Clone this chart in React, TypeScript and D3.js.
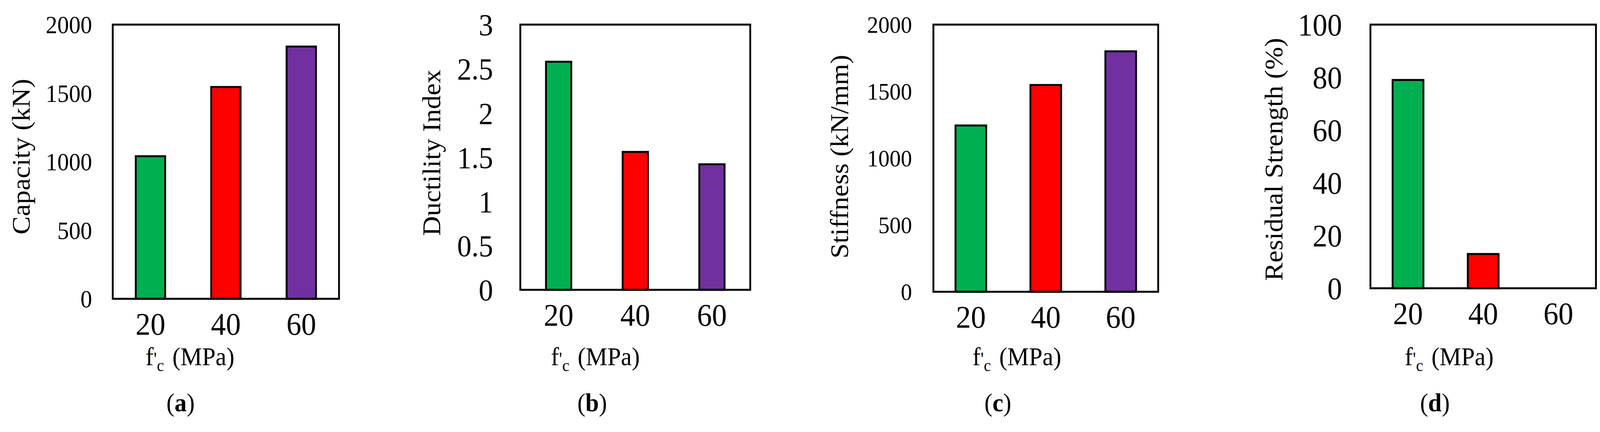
import React from "react";
import * as d3 from "d3";

// f'c levels (MPa)
const categories = ["20", "40", "60"];

const capacity = [1040, 1545, 1840];
const ductility = [2.58, 1.56, 1.42];
const stiffness = [1245, 1548, 1800];
const residual = [79, 13, 0];

const capacityTicks = [0, 500, 1000, 1500, 2000];
const ductilityTicks = [0, 0.5, 1, 1.5, 2, 2.5, 3];
const stiffnessTicks = [0, 500, 1000, 1500, 2000];
const residualTicks = [0, 20, 40, 60, 80, 100];

const barColors = ["#00B050", "#FF0000", "#7030A0"];

const FONT = "'Liberation Serif', 'Times New Roman', serif";
const W = 4342;
const H = 1106;

interface PanelSpec {
    values: number[];
    ticks: number[];
    yMax: number;
    yTitle: string;
    letter: string;
    left: number;
    right: number;
    top: number;
    bottom: number;
    barFrac: number;
    tickRight: number;
    tickSize: number;
    titleX: number;
    titleY: number;
    xTitleX: number;
    letterX: number;
}

const panels: PanelSpec[] = [
    {
        values: capacity, ticks: capacityTicks, yMax: 2000, yTitle: "Capacity (kN)", letter: "a",
        left: 306, right: 920, top: 63, bottom: 765, barFrac: 0.39,
        tickRight: 250, tickSize: 63, titleX: 81, titleY: 401, xTitleX: 395, letterX: 490,
    },
    {
        values: ductility, ticks: ductilityTicks, yMax: 3, yTitle: "Ductility Index", letter: "b",
        left: 1412, right: 2036, top: 63, bottom: 742, barFrac: 0.33,
        tickRight: 1338, tickSize: 78, titleX: 1195, titleY: 391, xTitleX: 1495, letterX: 1607,
    },
    {
        values: stiffness, ticks: stiffnessTicks, yMax: 2000, yTitle: "Stiffness (kN/mm)", letter: "c",
        left: 2533, right: 3143, top: 63, bottom: 747, barFrac: 0.41,
        tickRight: 2475, tickSize: 61, titleX: 2301, titleY: 401, xTitleX: 2639, letterX: 2708,
    },
    {
        values: residual, ticks: residualTicks, yMax: 100, yTitle: "Residual Strength (%)", letter: "d",
        left: 3719, right: 4331, top: 63, bottom: 738, barFrac: 0.41,
        tickRight: 3642, tickSize: 80, titleX: 3480, titleY: 408, xTitleX: 3812, letterX: 3894,
    },
];

const Panel: React.FC<{ p: PanelSpec }> = ({ p }) => {
    const gap = 1 - p.barFrac;
    const x = d3.scaleBand<string>().domain(categories).range([p.left, p.right]).paddingInner(gap).paddingOuter(gap / 2);
    const y = d3.scaleLinear().domain([0, p.yMax]).range([p.bottom, p.top]);

    return (
        <g fontFamily={FONT} fill="#000">
            {/* bars */}
            {p.values.map((v, i) => (
                <rect
                    key={i}
                    x={x(categories[i])}
                    y={y(v)}
                    width={x.bandwidth()}
                    height={y(0) - y(v)}
                    fill={barColors[i]}
                    stroke="#000"
                    strokeWidth={5}
                />
            ))}

            {/* plot frame */}
            <rect x={p.left} y={p.top} width={p.right - p.left} height={p.bottom - p.top} fill="none" stroke="#000" strokeWidth={5} />

            {/* y ticks */}
            {p.ticks.map((t) => (
                <text key={t} x={p.tickRight} y={y(t)} dy="0.35em" textAnchor="end" fontSize={p.tickSize}>
                    {t}
                </text>
            ))}

            {/* x ticks */}
            {categories.map((c) => (
                <text key={c} x={(x(c) as number) + x.bandwidth() / 2} y={p.bottom + 92} textAnchor="middle" fontSize={81}>
                    {c}
                </text>
            ))}

            <text transform={`translate(${p.titleX},${p.titleY}) rotate(-90)`} textAnchor="middle" fontSize={70}>
                {p.yTitle}
            </text>

            <text x={p.xTitleX} y={935} fontSize={66}>
                f<tspan fontSize={48}>'</tspan>
                <tspan dy={15} fontSize={44}>c</tspan>
                <tspan dy={-15} dx={6}> (MPa)</tspan>
            </text>

            <text x={p.letterX} y={1053} textAnchor="middle" fontSize={66}>
                (<tspan fontWeight="bold">{p.letter}</tspan>)
            </text>
        </g>
    );
};

export default function App() {
    return (
        <svg
            viewBox={`0 0 ${W} ${H}`}
            preserveAspectRatio="none"
            style={{ position: "fixed", left: 0, top: 0, width: "100vw", height: "100vh", background: "#fff" }}
        >
            <rect width={W} height={H} fill="#fff" />
            {panels.map((p) => (
                <Panel key={p.letter} p={p} />
            ))}
        </svg>
    );
}
